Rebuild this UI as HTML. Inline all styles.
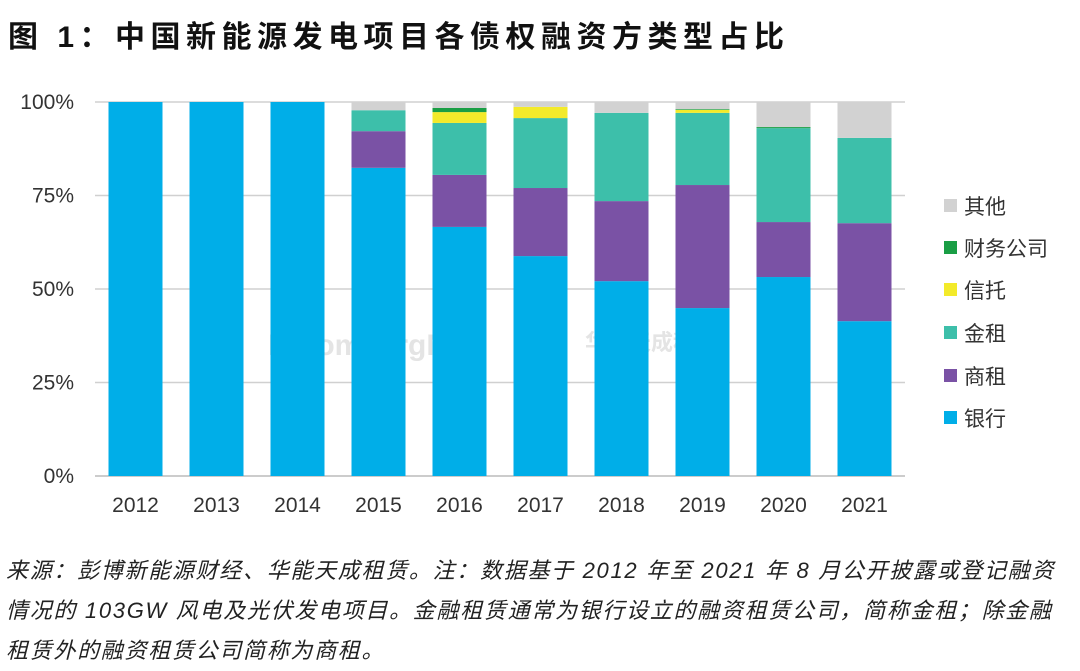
<!DOCTYPE html>
<html><head><meta charset="utf-8"><style>
body{margin:0;width:1080px;height:671px;background:#fff;overflow:hidden;font-family:"Liberation Sans","Noto Sans CJK SC",sans-serif;}
#title{position:absolute;left:8px;top:12px;font-size:30px;font-weight:bold;color:#111;letter-spacing:5.5px;white-space:nowrap;}
#note{position:absolute;left:6px;top:551px;font-size:22px;font-style:italic;color:#222;line-height:40px;white-space:nowrap;letter-spacing:1.7px;}
svg{position:absolute;left:0;top:0;}
</style></head><body>
<div id="title">图 1：中国新能源发电项目各债权融资方类型占比</div>
<svg id="chart" width="1080" height="671"></svg>
<div id="note">来源：彭博新能源财经、华能天成租赁。注：数据基于 2012 年至 2021 年 8 月公开披露或登记融资<br>情况的 103GW 风电及光伏发电项目。金融租赁通常为银行设立的融资租赁公司，简称金租；除金融<br>租赁外的融资租赁公司简称为商租。</div>
<script>
const years=["2012","2013","2014","2015","2016","2017","2018","2019","2020","2021"];
const bank=[100,100,100,82.4,66.6,58.8,52.1,44.9,53.2,41.4];
const commLease=[0,0,0,9.8,13.9,18.2,21.4,32.9,14.7,26.2];
const finLease=[0,0,0,5.6,13.9,18.7,23.6,19.3,25.1,22.8];
const trust=[0,0,0,0,2.9,3.0,0,0.8,0,0];
const finCo=[0,0,0,0,1.1,0,0,0.2,0.3,0];
const other=[0,0,0,2.2,1.6,1.3,2.9,1.9,6.7,9.6];
const ticks=[0,25,50,75,100];
const series=[
 {name:"银行",vals:bank,color:"#00aee8",key:"bank"},
 {name:"商租",vals:commLease,color:"#7a52a5",key:"comm-lease"},
 {name:"金租",vals:finLease,color:"#3dbfaa",key:"fin-lease"},
 {name:"信托",vals:trust,color:"#f3ea2a",key:"trust"},
 {name:"财务公司",vals:finCo,color:"#1a9e45",key:"finance-company"},
 {name:"其他",vals:other,color:"#d2d2d2",key:"other"}];
const NS="http://www.w3.org/2000/svg";
const svg=document.getElementById("chart");
const x0=95,x1=905,y0=476,y1=102;
const step=(x1-x0)/years.length,bw=54;
const y=v=>y0-(v/100)*(y0-y1);
const xc=i=>x0+step*(i+0.5);
function mk(t,a){const e=document.createElementNS(NS,t);for(const k in a)e.setAttribute(k,a[k]);svg.appendChild(e);return e;}
ticks.forEach(t=>{
 const g=mk("line",{x1:x0,x2:x1,y1:y(t),y2:y(t),stroke:t===0?"#bbb":"#d0d0d0","stroke-width":1.5});
 
 
 const l=mk("text",{x:74,y:y(t)+7,"text-anchor":"end","font-size":21,fill:"#333"});
 l.textContent=t+"%";
 
 
});
const wm=mk("text",{x:268,y:355,"font-size":30,"font-weight":"bold",fill:"#e4e4e4"});
wm.textContent="BloombergNEF";


const wm2=mk("text",{x:585,y:350,"font-size":22,"font-weight":"bold",fill:"#e4e4e4"});
wm2.textContent="华能天成租赁";


years.forEach((yr,i)=>{
 let acc=0;
 series.forEach(s=>{
  const v=s.vals[i];
  if(v>0){
   const r=mk("rect",{x:xc(i)-bw/2,y:y(acc+v),width:bw,height:y(acc)-y(acc+v),fill:s.color});
   
   
  }
  acc+=v;
 });
 const t=mk("text",{x:xc(i),y:512,"text-anchor":"middle","font-size":21,fill:"#333"});
 t.textContent=yr;
 
 
});
const legY=[418,376,333,290,248,206];
series.forEach((s,k)=>{
 const r=mk("rect",{x:944,y:legY[k]-7,width:13,height:13,fill:s.color});
 
 
 const t=mk("text",{x:964,y:legY[k]+8,"font-size":21,fill:"#333"});
 t.textContent=s.name;
 
 
});
</script>
</body></html>
